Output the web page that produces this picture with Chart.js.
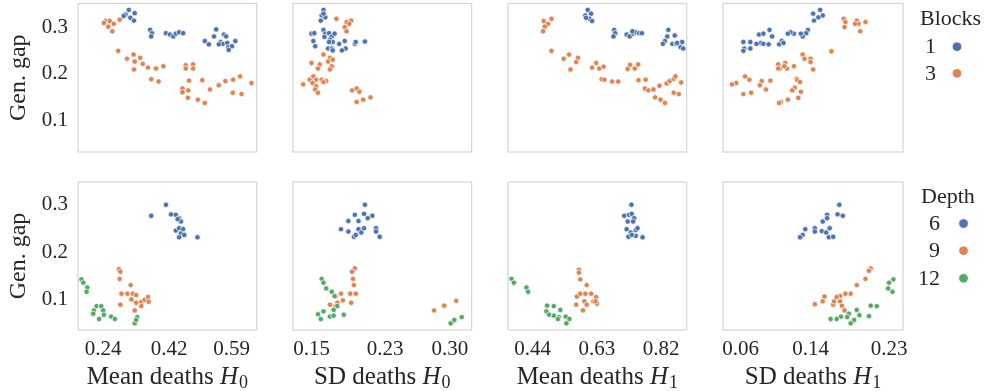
<!DOCTYPE html>
<html>
<head>
<meta charset="utf-8">
<script src="https://cdn.jsdelivr.net/npm/chart.js@4.4.1/dist/chart.umd.min.js"></script>
<style>
  html, body { margin: 0; padding: 0; background: #fff; }
  #wrap { position: relative; width: 986px; height: 391px; overflow: hidden; }
  canvas { position: absolute; }
</style>
</head>
<body>
<div id="wrap"></div>
<script>
// ---------------- data ----------------
const blockLabels = ["1", "3"];
const depthLabels = ["6", "9", "12"];
const yTicks = [0.1, 0.2, 0.3];
const ticksMeanH0 = [0.24, 0.42, 0.59];
const ticksSdH0 = [0.15, 0.23, 0.30];
const ticksMeanH1 = [0.44, 0.63, 0.82];
const ticksSdH1 = [0.06, 0.14, 0.23];
const xNames = ["Mean deaths", "SD deaths", "Mean deaths", "SD deaths"];
const xSubs = ["0", "0", "1", "1"];

// top row, hue = blocks
const blk1MeanH0 = [[0.310,0.337],[0.301,0.327],[0.326,0.330],[0.314,0.320],[0.324,0.314],[0.296,0.324],
  [0.368,0.294],[0.373,0.287],[0.371,0.280],[0.411,0.287],[0.422,0.284],[0.431,0.280],[0.438,0.286],
  [0.447,0.289],[0.458,0.287],[0.548,0.295],[0.542,0.280],[0.517,0.270],[0.528,0.263],[0.569,0.284],
  [0.575,0.280],[0.560,0.268],[0.566,0.264],[0.578,0.266],[0.600,0.270],[0.581,0.257],[0.591,0.259],
  [0.582,0.251],[0.555,0.263]];
const blk3MeanH0 = [[0.247,0.313],[0.258,0.313],[0.269,0.307],[0.254,0.301],[0.265,0.291],[0.285,0.316],
  [0.242,0.309],[0.281,0.249],[0.305,0.232],[0.323,0.241],[0.341,0.234],[0.326,0.226],[0.348,0.221],
  [0.362,0.213],[0.384,0.211],[0.404,0.216],[0.324,0.209],[0.371,0.188],[0.391,0.183],[0.465,0.218],
  [0.485,0.220],[0.465,0.211],[0.485,0.211],[0.474,0.185],[0.510,0.186],[0.456,0.168],[0.472,0.164],
  [0.456,0.160],[0.471,0.148],[0.498,0.144],[0.517,0.137],[0.531,0.166],[0.555,0.175],[0.573,0.184],
  [0.594,0.187],[0.613,0.194],[0.644,0.180],[0.593,0.159],[0.617,0.156]];
const blk1SdH0 = [[0.163,0.337],[0.161,0.325],[0.165,0.321],[0.160,0.314],[0.163,0.329],[0.150,0.286],
  [0.153,0.287],[0.163,0.294],[0.165,0.286],[0.169,0.287],[0.172,0.280],[0.175,0.286],[0.164,0.279],
  [0.170,0.273],[0.173,0.268],[0.169,0.268],[0.152,0.270],[0.154,0.259],[0.168,0.254],[0.172,0.254],
  [0.173,0.250],[0.180,0.264],[0.186,0.270],[0.187,0.254],[0.183,0.250],[0.197,0.264],[0.198,0.268],
  [0.208,0.269]];
const blk3SdH0 = [[0.177,0.318],[0.188,0.311],[0.193,0.314],[0.191,0.307],[0.186,0.300],[0.188,0.291],
  [0.163,0.241],[0.170,0.234],[0.168,0.226],[0.173,0.230],[0.150,0.223],[0.159,0.220],[0.157,0.211],
  [0.172,0.216],[0.170,0.209],[0.148,0.187],[0.152,0.194],[0.155,0.187],[0.161,0.187],[0.166,0.184],
  [0.141,0.177],[0.151,0.180],[0.155,0.173],[0.154,0.166],[0.157,0.159],[0.163,0.182],[0.194,0.164],
  [0.199,0.168],[0.202,0.161],[0.199,0.139],[0.206,0.144],[0.214,0.149]];
const blk1MeanH1 = [[0.603,0.337],[0.596,0.325],[0.613,0.329],[0.608,0.318],[0.616,0.313],[0.598,0.320],
  [0.681,0.294],[0.684,0.287],[0.679,0.280],[0.718,0.284],[0.727,0.280],[0.737,0.286],[0.745,0.289],
  [0.755,0.287],[0.763,0.287],[0.735,0.291],[0.841,0.294],[0.838,0.280],[0.860,0.282],[0.831,0.270],
  [0.825,0.264],[0.853,0.264],[0.864,0.264],[0.882,0.268],[0.877,0.257],[0.885,0.254],[0.867,0.266]];
const blk3MeanH1 = [[0.496,0.318],[0.473,0.313],[0.486,0.307],[0.476,0.301],[0.471,0.291],[0.496,0.249],
  [0.532,0.232],[0.548,0.241],[0.574,0.234],[0.569,0.225],[0.552,0.209],[0.616,0.213],[0.628,0.223],
  [0.637,0.211],[0.650,0.215],[0.644,0.188],[0.652,0.187],[0.675,0.183],[0.693,0.183],[0.721,0.210],
  [0.728,0.219],[0.742,0.211],[0.752,0.220],[0.753,0.186],[0.774,0.187],[0.772,0.168],[0.782,0.164],
  [0.797,0.166],[0.815,0.174],[0.836,0.179],[0.845,0.184],[0.857,0.189],[0.862,0.194],[0.879,0.181],
  [0.872,0.156],[0.857,0.159],[0.802,0.149],[0.818,0.144],[0.831,0.137]];
const blk1SdH1 = [[0.151,0.337],[0.154,0.325],[0.149,0.321],[0.143,0.329],[0.144,0.314],[0.137,0.294],
  [0.135,0.287],[0.131,0.280],[0.129,0.286],[0.121,0.286],[0.117,0.289],[0.114,0.286],[0.093,0.294],
  [0.096,0.280],[0.081,0.284],[0.086,0.286],[0.083,0.266],[0.086,0.264],[0.078,0.264],[0.092,0.263],
  [0.071,0.268],[0.063,0.268],[0.064,0.254],[0.071,0.254],[0.063,0.249],[0.107,0.270],[0.104,0.263],
  [0.109,0.266]];
const blk3SdH1 = [[0.178,0.318],[0.180,0.311],[0.179,0.300],[0.193,0.314],[0.195,0.307],[0.191,0.307],
  [0.203,0.311],[0.197,0.291],[0.164,0.248],[0.131,0.241],[0.133,0.232],[0.140,0.232],[0.140,0.225],
  [0.143,0.209],[0.103,0.220],[0.111,0.223],[0.121,0.216],[0.105,0.211],[0.113,0.211],[0.110,0.216],
  [0.103,0.211],[0.065,0.194],[0.070,0.187],[0.055,0.180],[0.050,0.177],[0.063,0.156],[0.072,0.159],
  [0.084,0.184],[0.094,0.185],[0.082,0.175],[0.089,0.166],[0.124,0.189],[0.125,0.186],[0.128,0.182],
  [0.122,0.170],[0.119,0.164],[0.129,0.161],[0.126,0.148],[0.114,0.144],[0.106,0.139],[0.104,0.137]];

// bottom row, hue = depth
const dep6MeanH0 = [[0.411,0.299],[0.371,0.276],[0.425,0.279],[0.438,0.278],[0.447,0.271],[0.452,0.264],
  [0.438,0.245],[0.447,0.250],[0.458,0.248],[0.452,0.239],[0.461,0.236],[0.447,0.231],[0.497,0.231],
  [0.443,0.269]];
const dep9MeanH0 = [[0.283,0.164],[0.287,0.159],[0.285,0.144],[0.315,0.131],[0.290,0.113],[0.306,0.113],
  [0.321,0.113],[0.330,0.110],[0.287,0.090],[0.317,0.101],[0.330,0.094],[0.344,0.096],[0.353,0.100],
  [0.362,0.106],[0.364,0.096],[0.326,0.078],[0.344,0.087]];
const dep12MeanH0 = [[0.181,0.143],[0.186,0.136],[0.197,0.126],[0.195,0.117],[0.222,0.087],[0.215,0.078],
  [0.235,0.087],[0.240,0.078],[0.213,0.071],[0.229,0.060],[0.242,0.069],[0.262,0.065],[0.272,0.060],
  [0.333,0.064],[0.326,0.051],[0.330,0.058]];
const dep6SdH0 = [[0.208,0.299],[0.197,0.278],[0.207,0.280],[0.216,0.276],[0.211,0.271],[0.190,0.265],
  [0.201,0.265],[0.182,0.248],[0.190,0.243],[0.196,0.232],[0.198,0.236],[0.201,0.248],[0.204,0.241],
  [0.207,0.250],[0.220,0.250],[0.220,0.243],[0.224,0.232]];
const dep9SdH0 = [[0.197,0.166],[0.194,0.159],[0.195,0.144],[0.196,0.131],[0.192,0.113],[0.198,0.113],
  [0.193,0.094],[0.182,0.113],[0.176,0.107],[0.184,0.099],[0.178,0.094],[0.170,0.090],[0.176,0.087],
  [0.283,0.078],[0.294,0.088],[0.307,0.098]];
const dep12SdH0 = [[0.161,0.144],[0.163,0.136],[0.166,0.124],[0.172,0.117],[0.175,0.108],[0.178,0.087],
  [0.174,0.079],[0.163,0.076],[0.157,0.070],[0.160,0.060],[0.170,0.065],[0.174,0.067],[0.185,0.069],
  [0.301,0.051],[0.305,0.058],[0.313,0.064]];
const dep6MeanH1 = [[0.732,0.299],[0.711,0.276],[0.725,0.278],[0.733,0.280],[0.740,0.271],[0.721,0.264],
  [0.737,0.264],[0.718,0.248],[0.730,0.241],[0.745,0.246],[0.750,0.250],[0.723,0.232],[0.745,0.234],
  [0.765,0.231],[0.733,0.236]];
const dep9MeanH1 = [[0.577,0.163],[0.577,0.157],[0.581,0.143],[0.600,0.131],[0.571,0.107],[0.581,0.113],
  [0.596,0.113],[0.613,0.113],[0.628,0.106],[0.630,0.092],[0.593,0.097],[0.600,0.090],[0.620,0.097],
  [0.626,0.097],[0.569,0.090],[0.589,0.078]];
const dep12MeanH1 = [[0.378,0.144],[0.385,0.136],[0.422,0.126],[0.427,0.117],[0.483,0.088],[0.503,0.087],
  [0.522,0.079],[0.481,0.076],[0.489,0.069],[0.503,0.067],[0.518,0.064],[0.538,0.065],[0.549,0.060],
  [0.540,0.051],[0.515,0.060]];
const dep6SdH1 = [[0.173,0.299],[0.171,0.279],[0.177,0.276],[0.159,0.278],[0.159,0.271],[0.154,0.264],
  [0.145,0.250],[0.134,0.248],[0.145,0.243],[0.153,0.244],[0.162,0.250],[0.158,0.241],[0.161,0.231],
  [0.166,0.232],[0.131,0.236],[0.128,0.231]];
const dep9SdH1 = [[0.209,0.166],[0.207,0.161],[0.203,0.144],[0.193,0.131],[0.186,0.113],[0.180,0.113],
  [0.174,0.108],[0.156,0.107],[0.154,0.097],[0.145,0.091],[0.166,0.090],[0.167,0.097],[0.174,0.097],
  [0.176,0.088],[0.179,0.078],[0.170,0.106]];
const dep12SdH1 = [[0.235,0.143],[0.230,0.136],[0.229,0.124],[0.234,0.117],[0.209,0.088],[0.216,0.087],
  [0.193,0.079],[0.196,0.068],[0.207,0.066],[0.184,0.071],[0.182,0.064],[0.175,0.065],[0.170,0.060],
  [0.163,0.060],[0.190,0.058],[0.186,0.051]];

// axis limits
const xMins = [0.1716, 0.1299, 0.3676, 0.0397];
const xMaxs = [0.658, 0.3237, 0.895, 0.246];
const yMins = [0.0315, 0.037];
const yMaxs = [0.351, 0.3467];

// ---------------- layout ----------------
const colors = ["#4c72b0", "#dd8452", "#55a868"];
const ink = "#262626";
const serif = "'Liberation Serif', 'Times New Roman', serif";
const colLeft = [78, 293, 508, 723];
const plotW = 180;
const rowTop = [3, 182];
const plotH = [149, 148];
const canvasTop = [0, 160];
const canvasH = [160, 231];
const xTickSets = [ticksMeanH0, ticksSdH0, ticksMeanH1, ticksSdH1];

const panels = [
  [[blk1MeanH0, blk3MeanH0], [blk1SdH0, blk3SdH0], [blk1MeanH1, blk3MeanH1], [blk1SdH1, blk3SdH1]],
  [[dep6MeanH0, dep9MeanH0, dep12MeanH0], [dep6SdH0, dep9SdH0, dep12SdH0],
   [dep6MeanH1, dep9MeanH1, dep12MeanH1], [dep6SdH1, dep9SdH1, dep12SdH1]]
];

const framePlugin = {
  id: "frame",
  afterDatasetsDraw(chart) {
    const a = chart.chartArea, ctx = chart.ctx;
    ctx.save();
    ctx.strokeStyle = "#d6d6d6";
    ctx.lineWidth = 1.25;
    ctx.strokeRect(a.left, a.top, a.right - a.left, a.bottom - a.top);
    ctx.restore();
  }
};

// x title with italic H and subscript
function xTitlePlugin(c) {
  return {
    id: "xtitle" + c,
    afterDraw(chart) {
      const ctx = chart.ctx, a = chart.chartArea;
      const base = 384 - canvasTop[1];
      ctx.save();
      ctx.fillStyle = ink;
      ctx.textBaseline = "alphabetic";
      ctx.textAlign = "left";
      const f1 = "25px " + serif, f2 = "italic 25px " + serif, f3 = "18px " + serif;
      const t1 = xNames[c] + " ";
      ctx.font = f1; const w1 = ctx.measureText(t1).width;
      ctx.font = f2; const w2 = ctx.measureText("H").width;
      ctx.font = f3; const w3 = ctx.measureText(xSubs[c]).width;
      let x = (a.left + a.right) / 2 - (w1 + w2 + w3 + 1) / 2;
      ctx.font = f1; ctx.fillText(t1, x, base); x += w1;
      ctx.font = f2; ctx.fillText("H", x, base); x += w2 + 1;
      ctx.font = f3; ctx.fillText(xSubs[c], x, base + 4);
      ctx.restore();
    }
  };
}

function legendPlugin(r) {
  const title = r === 0 ? "Blocks" : "Depth";
  const labels = r === 0 ? blockLabels : depthLabels;
  const titleX = r === 0 ? 920 : 921;
  const titleBase = r === 0 ? 25 : 203;
  const ys = r === 0 ? [46.7, 73.3] : [223.5, 250.7, 278.3];
  const labRight = r === 0 ? 936 : 940;
  const mkX = r === 0 ? 957 : 963.5;
  const offX = colLeft[3] - 78, offY = canvasTop[r];
  return {
    id: "legend" + r,
    afterDraw(chart) {
      const ctx = chart.ctx;
      ctx.save();
      ctx.fillStyle = ink;
      ctx.font = "22px " + serif;
      ctx.textAlign = "left";
      ctx.textBaseline = "alphabetic";
      ctx.fillText(title, titleX - offX, titleBase - offY);
      labels.forEach((lab, i) => {
        ctx.fillStyle = ink;
        ctx.textAlign = "right";
        ctx.textBaseline = "middle";
        ctx.fillText(lab, labRight - offX, ys[i] - offY + 1);
        ctx.beginPath();
        ctx.arc(mkX - offX, ys[i] - offY, 4.8, 0, Math.PI * 2);
        ctx.fillStyle = colors[i];
        ctx.fill();
        ctx.strokeStyle = "#fff";
        ctx.lineWidth = 0.8;
        ctx.stroke();
      });
      ctx.restore();
    }
  };
}

const wrap = document.getElementById("wrap");

for (let r = 0; r < 2; r++) {
  for (let c = 0; c < 4; c++) {
    const cv = document.createElement("canvas");
    const left = colLeft[c] - 78;
    const rightPad = c === 3 ? 986 - (colLeft[c] + plotW) : 2;
    const w = 78 + plotW + rightPad;
    const h = canvasH[r];
    cv.width = w; cv.height = h;
    cv.style.left = left + "px";
    cv.style.top = canvasTop[r] + "px";
    cv.style.width = w + "px";
    cv.style.height = h + "px";
    wrap.appendChild(cv);

    const series = panels[r][c];
    const labs = r === 0 ? blockLabels : depthLabels;
    const datasets = series.map((pts, i) => ({
      label: labs[i],
      data: pts.map(p => ({ x: p[0], y: p[1] })),
      backgroundColor: colors[i],
      borderColor: "#ffffff",
      borderWidth: 0.7,
      pointRadius: 2.7,
      pointHoverRadius: 2.7,
      order: series.length - i
    }));

    const plugins = [framePlugin];
    if (r === 1) plugins.push(xTitlePlugin(c));
    if (c === 3) plugins.push(legendPlugin(r));

    const xLabels = r === 1;
    const yLabels = c === 0;
    const topPad = rowTop[r] - canvasTop[r];
    const bottomSpace = h - topPad - plotH[r];

    new Chart(cv, {
      type: "scatter",
      data: { datasets },
      options: {
        responsive: false,
        animation: false,
        devicePixelRatio: 1,
        events: [],
        layout: { padding: { top: topPad, left: 0, right: rightPad, bottom: 0 } },
        plugins: { legend: { display: false }, tooltip: { enabled: false } },
        scales: {
          x: {
            type: "linear",
            min: xMins[c],
            max: xMaxs[c],
            grid: { display: false, drawTicks: false },
            border: { display: false },
            afterBuildTicks: s => { s.ticks = xTickSets[c].map(v => ({ value: v })); },
            afterFit: s => { s.height = bottomSpace; s.paddingLeft = 0; s.paddingRight = 0; },
            ticks: {
              display: xLabels,
              color: ink,
              font: { family: serif, size: 21 },
              padding: 7,
              maxRotation: 0,
              autoSkip: false,
              callback: v => v.toFixed(2)
            }
          },
          y: {
            type: "linear",
            min: yMins[r],
            max: yMaxs[r],
            grid: { display: false, drawTicks: false },
            border: { display: false },
            afterBuildTicks: s => { s.ticks = yTicks.map(v => ({ value: v })); },
            afterFit: s => { s.width = 78; s.paddingTop = 0; s.paddingBottom = 0; },
            ticks: {
              display: yLabels,
              color: ink,
              font: { family: serif, size: 21 },
              padding: 10,
              callback: v => v.toFixed(1)
            },
            title: {
              display: yLabels,
              text: "Gen. gap",
              color: ink,
              font: { family: serif, size: 24 },
              padding: { top: 4, bottom: 0 }
            }
          }
        }
      },
      plugins
    });
  }
}
</script>
</body>
</html>
